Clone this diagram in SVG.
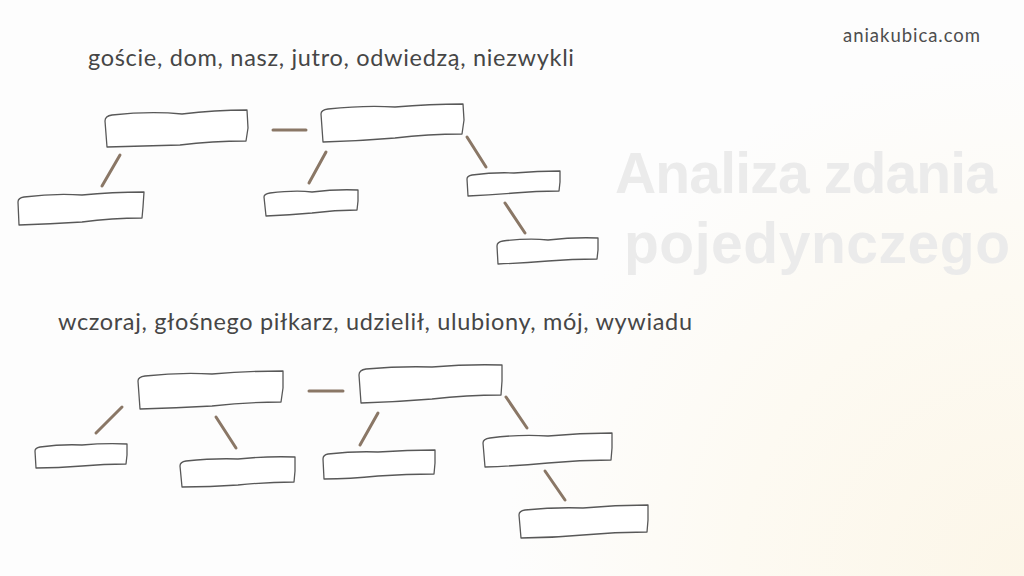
<svg xmlns="http://www.w3.org/2000/svg" width="1024" height="576" viewBox="0 0 1024 576">
<defs>
<radialGradient id="warm" cx="1024" cy="576" r="520" gradientUnits="userSpaceOnUse">
<stop offset="0" stop-color="#fcf6e8"/>
<stop offset="0.55" stop-color="#fdfaf2"/>
<stop offset="1" stop-color="#fdfdfd"/>
</radialGradient>
<style>
.box{fill:#ffffff;stroke:#585858;stroke-width:1.3;stroke-linejoin:round}
.con{stroke:#8a7766;stroke-width:3;stroke-linecap:round;fill:none}
.words{font-family:Lato,"Open Sans",sans-serif;font-size:23.5px;fill:#464646}
.title{font-family:"Liberation Sans",Arial,sans-serif;font-weight:bold;font-size:57px;fill:#ebebeb}
.site{font-family:Lato,"Open Sans",sans-serif;font-size:18.5px;fill:#4e4e4e}
</style>
</defs>
<rect width="1024" height="576" fill="#fdfdfd"/>
<rect width="1024" height="576" fill="url(#warm)"/>
<text class="title" x="615" y="193" textLength="382" lengthAdjust="spacing">Analiza zdania</text>
<text class="title" x="624" y="263" textLength="386" lengthAdjust="spacing">pojedynczego</text>
<text class="site" x="843" y="42" textLength="137" lengthAdjust="spacing">aniakubica.com</text>
<text class="words" x="88" y="66" textLength="486" lengthAdjust="spacing">goście, dom, nasz, jutro, odwiedzą, niezwykli</text>
<text class="words" x="58" y="330" textLength="634" lengthAdjust="spacing">wczoraj, głośnego piłkarz, udzielił, ulubiony, mój, wywiadu</text>
<g id="connectors">
<line class="con" x1="273" y1="130" x2="306" y2="130"/>
<line class="con" x1="120" y1="155" x2="102" y2="186"/>
<line class="con" x1="326" y1="152" x2="309" y2="183"/>
<line class="con" x1="467" y1="137" x2="486" y2="167"/>
<line class="con" x1="505" y1="203" x2="525" y2="233"/>
<line class="con" x1="309" y1="391" x2="343" y2="391"/>
<line class="con" x1="122" y1="407" x2="96" y2="433"/>
<line class="con" x1="216" y1="417" x2="236" y2="448"/>
<line class="con" x1="378" y1="413" x2="360" y2="445"/>
<line class="con" x1="506" y1="397" x2="527" y2="428"/>
<line class="con" x1="545" y1="471" x2="565" y2="500"/>
</g>
<g id="box-a"><path class="box" d="M107,147 L105,121 Q105,116 112,115 Q150,111 182,114 Q215,110 247,110 L248,128 L246,141 Q212,141 180,145 Q144,146 107,147 Z"/></g>
<g id="box-b"><path class="box" d="M323,142 L321,114 Q321,110 328,109 Q365,105 395,107 Q430,104 463,104 L464,120 L462,134 Q428,134 395,138 Q360,141 323,142 Z"/></g>
<g id="box-c"><path class="box" d="M19,225 L18,202 Q18,198 24,197 Q55,193 82,195 Q112,192 144,192 L143,207 L142,218 Q112,218 82,222 Q50,224 19,225 Z"/></g>
<g id="box-d"><path class="box" d="M266,216 L264,197 Q264,194 270,193 Q295,190 312,192 Q336,189 358,190 L358,201 L357,210 Q335,210 312,213 Q290,215 266,216 Z"/></g>
<g id="box-e"><path class="box" d="M468,196 L467,179 Q467,176 472,175 Q495,172 514,173 Q538,171 560,171 L560,182 L559,191 Q536,191 514,193 Q490,195 468,196 Z"/></g>
<g id="box-f"><path class="box" d="M498,264 L497,246 Q497,242 503,241 Q528,238 548,240 Q574,237 598,238 L598,250 L597,259 Q572,259 548,261 Q522,263 498,264 Z"/></g>
<g id="box-g"><path class="box" d="M140,409 L138,381 Q138,377 145,376 Q180,372 212,374 Q248,371 283,371 L283,388 L281,402 Q248,402 212,406 Q176,408 140,409 Z"/></g>
<g id="box-h"><path class="box" d="M361,403 L359,375 Q359,370 366,369 Q400,366 432,367 Q468,364 502,365 L502,381 L501,395 Q467,395 432,399 Q396,402 361,403 Z"/></g>
<g id="box-i"><path class="box" d="M36,468 L35,451 Q35,448 40,447 Q62,444 82,445 Q105,443 127,444 L127,455 L126,464 Q104,464 82,466 Q58,468 36,468 Z"/></g>
<g id="box-j"><path class="box" d="M182,487 L180,466 Q180,462 186,461 Q215,458 238,459 Q267,456 295,457 L295,471 L294,482 Q266,482 238,485 Q210,487 182,487 Z"/></g>
<g id="box-k"><path class="box" d="M324,479 L323,459 Q323,455 328,454 Q355,451 378,452 Q408,450 435,450 L435,463 L434,474 Q407,474 378,476 Q350,479 324,479 Z"/></g>
<g id="box-l"><path class="box" d="M485,467 L483,443 Q483,439 490,438 Q520,434 548,436 Q580,433 612,433 L612,448 L611,460 Q580,460 548,463 Q516,466 485,467 Z"/></g>
<g id="box-m"><path class="box" d="M521,538 L519,515 Q519,511 525,510 Q555,507 583,508 Q615,505 648,505 L648,520 L647,532 Q615,532 583,535 Q552,538 521,538 Z"/></g>
</svg>
